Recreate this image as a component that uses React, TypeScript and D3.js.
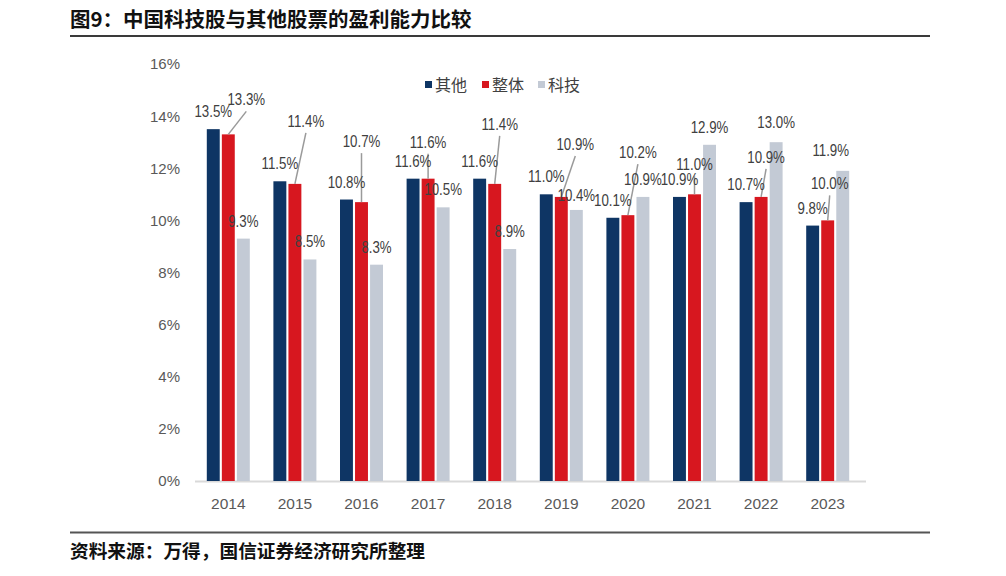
import React, {Component} from 'react'
import * as d3 from 'd3'

const years = ['2014', '2015', '2016', '2017', '2018', '2019', '2020', '2021', '2022', '2023']
const otherVals = [13.5, 11.5, 10.8, 11.6, 11.6, 11.0, 10.1, 10.9, 10.7, 9.8]
const overallVals = [13.3, 11.4, 10.7, 11.6, 11.4, 10.9, 10.2, 11.0, 10.9, 10.0]
const techVals = [9.3, 8.5, 8.3, 10.5, 8.9, 10.4, 10.9, 12.9, 13.0, 11.9]
const yTicks = [0, 2, 4, 6, 8, 10, 12, 14, 16]
const seriesNames = ['其他', '整体', '科技']

// label nudges (px) copied from the hand-placed labels in the source
const overallDx = [18, 11, 0, 0, 5, 14, 10, 0, 5, 2]
const overallDy = [-17, -45, -43, -19, -42, -35, -45, -12, -22, -19]
const techDx = [0, 0, 0, 0, 0, 0, 0, 0, 0, -12]
const techDy = [0, 0, 0, 0, 0, 3, 0, 0, -2, -3]

const colors = ['#0E3564', '#D7171F', '#C3CAD5']
const W = 1006, H = 576
const plot = {left: 195, right: 861, top: 64, bottom: 481}
const numFont = '"Liberation Sans", Arial, sans-serif'
const cjkFont = '"Noto Sans CJK SC", "Noto Sans", sans-serif'

class App extends Component {

  draw() {
    const svg = d3.select('#profitChart')
    svg.selectAll('*').remove()

    const x = d3.scaleBand().domain(years).range([plot.left, plot.right]).padding(0)
    const y = d3.scaleLinear().domain([0, 16]).range([plot.bottom, plot.top])
    const inner = d3.scaleBand().domain(['0', '1', '2']).range([-21.5, 21.5]).paddingInner(0.14)

    // title + rules
    svg.append('text').attr('x', 70).attr('y', 27).text('图9：中国科技股与其他股票的盈利能力比较')
      .attr('font-family', cjkFont).attr('font-size', 20.5).attr('font-weight', 700).attr('fill', '#111')
    svg.append('line').attr('x1', 70).attr('x2', 930).attr('y1', 36).attr('y2', 36)
      .attr('stroke', '#3a3a3a').attr('stroke-width', 2)
    svg.append('line').attr('x1', 70).attr('x2', 930).attr('y1', 532.5).attr('y2', 532.5)
      .attr('stroke', '#555').attr('stroke-width', 2)
    svg.append('text').attr('x', 70).attr('y', 558).text('资料来源：万得，国信证券经济研究所整理')
      .attr('font-family', cjkFont).attr('font-size', 18.7).attr('font-weight', 700).attr('fill', '#111')

    // y ticks
    svg.append('g').selectAll('text').data(yTicks).enter().append('text')
      .attr('x', 180).attr('y', d => y(d)).attr('dy', '0.36em')
      .attr('text-anchor', 'end').text(d => d + '%')
      .attr('font-family', numFont).attr('font-size', 15).attr('fill', '#595959')

    // baseline
    svg.append('line').attr('x1', plot.left).attr('x2', plot.right + 5)
      .attr('y1', plot.bottom + 0.5).attr('y2', plot.bottom + 0.5)
      .attr('stroke', '#D9D9D9').attr('stroke-width', 2)

    // year labels
    svg.append('g').selectAll('text').data(years).enter().append('text')
      .attr('x', d => (x(d) as number) + x.bandwidth() / 2).attr('y', 509)
      .attr('text-anchor', 'middle').text(d => d)
      .attr('font-family', numFont).attr('font-size', 15.5).attr('fill', '#595959')

    const all = [otherVals, overallVals, techVals]
    const cx = (i: number, s: number) =>
      (x(years[i]) as number) + x.bandwidth() / 2 + (inner(String(s)) as number) + inner.bandwidth() / 2

    all.forEach((vals, s) => {
      const g = svg.append('g')
      g.selectAll('rect').data(vals).enter().append('rect')
        .attr('x', (d, i) => cx(i, s) - inner.bandwidth() / 2)
        .attr('width', inner.bandwidth())
        .attr('y', d => y(d))
        .attr('height', d => plot.bottom - y(d))
        .attr('fill', colors[s])
    })

    const fmt = (v: number) => v.toFixed(1) + '%'
    // the source labels are a tall, narrow face: squeeze them horizontally
    const addLabels = (vals: number[], px: (i: number) => number, py: (d: number, i: number) => number) =>
      svg.append('g').selectAll('text').data(vals).enter().append('text')
        .attr('transform', (d, i) => 'translate(' + px(i) + ',' + py(d, i) + ') scale(0.83,1)')
        .attr('text-anchor', 'middle')
        .attr('font-family', numFont).attr('font-size', 16)
        .attr('fill', '#404040')
        .text(d => fmt(d))

    // leader lines for the 整体 labels
    svg.append('g').selectAll('line').data(overallVals).enter().append('line')
      .attr('x1', (d, i) => cx(i, 1) + overallDx[i])
      .attr('y1', (d, i) => y(d) - 12 + overallDy[i] + 6)
      .attr('x2', (d, i) => cx(i, 1))
      .attr('y2', d => y(d))
      .attr('stroke', '#9A9A9A').attr('stroke-width', 1.5)

    addLabels(otherVals, i => cx(i, 0), d => y(d) - 12)
    addLabels(overallVals, i => cx(i, 1) + overallDx[i], (d, i) => y(d) - 12 + overallDy[i])
    addLabels(techVals, i => cx(i, 2) + techDx[i], (d, i) => y(d) - 12 + techDy[i])

    // legend
    const legendX = [425, 482, 538]
    const lg = svg.append('g').selectAll('g').data(seriesNames).enter().append('g')
      .attr('transform', (d, i) => 'translate(' + legendX[i] + ',85)')
    lg.append('rect').attr('x', 0).attr('y', -4).attr('width', 7).attr('height', 7)
      .attr('fill', (d, i) => colors[i])
    lg.append('text').attr('x', 10).attr('y', 0).attr('dy', '0.36em').text(d => d)
      .attr('font-family', cjkFont).attr('font-size', 16).attr('fill', '#404040')
  }

  componentDidMount() {
    this.draw()
  }

  render() {
    return (
      <svg id="profitChart" width={W} height={H}
        style={{position: 'absolute', left: 0, top: 0, background: '#fff'}} />
    )
  }
}

export default App
